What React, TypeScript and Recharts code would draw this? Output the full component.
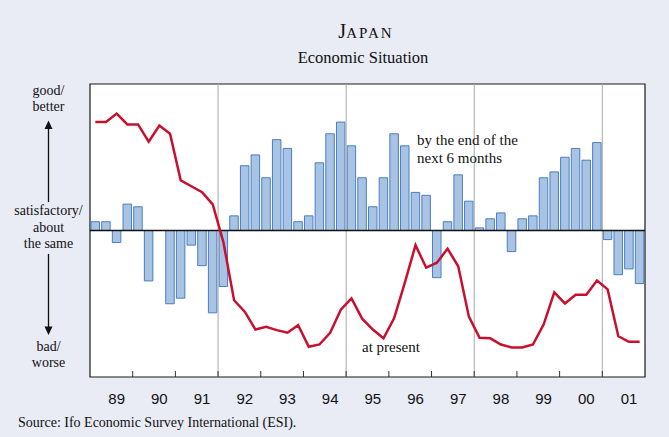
import {
  Bar,
  ComposedChart,
  Line,
  ReferenceArea,
  ReferenceLine,
  XAxis,
  YAxis,
} from "recharts";

const years = ["89", "90", "91", "92", "93", "94", "95", "96", "97", "98", "99", "00", "01"];
const dividerYears = ["92", "95", "98", "01"];

// by the end of the next 6 months (quarterly balance)
const expectations = [
  3, 3, -4.1, 9, 8.1, -17.2, 0, -25, -23.1, -5, -12, -28.1,
  -19.1, 5, 22.1, 25.8, 18, 31, 28, 3, 5, 23.1, 33, 37,
  28.9, 18, 8.1, 18, 33, 28.9, 13, 12, -16.1, 3, 19, 10,
  0.9, 4, 6, -7.2, 4, 5, 18, 20, 25, 28, 24, 30,
  -3.1, -15.1, -13.1, -18.1,
];

// at present
const present = [
  37, 37, 39.9, 36.2, 36.2, 30.3, 35.8, 33, 17.1, 15.1, 13.1, 8.9,
  -4, -23.8, -27.7, -33.8, -32.9, -34, -34.9, -32.3, -39.7, -38.9, -34.9, -27,
  -23.2, -30.1, -33.8, -36.8, -29.9, -17.8, -5, -12.7, -11, -6.2, -12.2, -29.4,
  -36.6, -36.8, -38.9, -39.9, -39.9, -38.9, -32.1, -21.1, -24.9, -21.9, -21.9, -17.1,
  -20.1, -36.1, -38, -38,
];

const data = expectations.map((v, i) => ({ x: i + 0.5, exp: v, now: present[i] }));
const yearStarts = years.slice(1).map((_, i) => (i + 1) * 4);
const labelSpots = years.map((_, i) => i * 4 + 2.5);
const tickValues = [...labelSpots, ...yearStarts].sort((a, b) => a - b);
const dividers = dividerYears.map((y) => years.indexOf(y) * 4);

const serif = "'Liberation Serif', 'Times New Roman', serif";
const sans = "'Liberation Sans', Arial, sans-serif";

function YearTick(props: any) {
  const { x, y, payload } = props;
  const v = payload.value;
  if (v % 4 === 0) {
    return <line x1={x} x2={x} y1={y - 6} y2={y} stroke="#333" strokeWidth={1} />;
  }
  return (
    <text x={x} y={y + 27} textAnchor="middle" fontFamily={sans} fontSize={15} fill="#111">
      {years[Math.floor(v / 4)]}
    </text>
  );
}

export default function App() {
  return (
    <div
      style={{
        position: "absolute",
        left: 0,
        top: 0,
        width: 669,
        height: 437,
        background: "#e9ebf5",
      }}
    >
      <ComposedChart
        width={669}
        height={437}
        data={data}
        margin={{ top: 84, right: 24, bottom: 30, left: 90 }}
      >
        <XAxis
          dataKey="x"
          type="number"
          domain={[0, 52]}
          ticks={tickValues}
          interval={0}
          allowDataOverflow
          axisLine={false}
          tickLine={false}
          tickSize={0}
          tickMargin={0}
          height={30}
          tick={<YearTick />}
        />
        <YAxis hide width={0} domain={[-50, 50]} allowDataOverflow />
        <ReferenceArea
          x1={0}
          x2={52}
          y1={-50}
          y2={50}
          fill="#ffffff"
          fillOpacity={1}
          stroke="#1a1a1a"
          strokeWidth={1.2}
        />
        {dividers.map((d) => (
          <ReferenceLine key={d} x={d} stroke="#a8a8a8" strokeWidth={1} />
        ))}
        <Bar
          dataKey="exp"
          barSize={8.5}
          fill="#a9c3e4"
          stroke="#4a7ec0"
          strokeWidth={1}
          isAnimationActive={false}
        />
        <ReferenceLine y={0} stroke="#111" strokeWidth={1.5} />
        <Line
          dataKey="now"
          type="linear"
          stroke="#c8102e"
          strokeWidth={2.5}
          dot={false}
          isAnimationActive={false}
        />
      </ComposedChart>
      <svg
        width={669}
        height={437}
        style={{ position: "absolute", left: 0, top: 0, pointerEvents: "none" }}
      >
        <text x={366} y={38} textAnchor="middle" fontFamily={serif} fill="#111">
          <tspan fontSize={20}>J</tspan>
          <tspan fontSize={15} letterSpacing={2}>APAN</tspan>
        </text>
        <text x={363} y={63} textAnchor="middle" fontFamily={serif} fontSize={16.5} fill="#111">
          Economic Situation
        </text>

        <g fontFamily={serif} fontSize={14} fill="#111" textAnchor="middle">
          <text x={48.5} y={95}>good/</text>
          <text x={48.5} y={111}>better</text>
          <text x={48.5} y={215}>satisfactory/</text>
          <text x={48.5} y={232}>about</text>
          <text x={48.5} y={248}>the same</text>
          <text x={48.5} y={351}>bad/</text>
          <text x={48.5} y={367}>worse</text>
        </g>
        <line x1={48.5} x2={48.5} y1={127} y2={202} stroke="#111" strokeWidth={1.3} />
        <polygon points="48.5,120.5 44.5,129 52.5,129" fill="#111" />
        <line x1={48.5} x2={48.5} y1={254} y2={328} stroke="#111" strokeWidth={1.3} />
        <polygon points="48.5,335 44.5,326.5 52.5,326.5" fill="#111" />

        <g fontFamily={serif} fontSize={15} fill="#111">
          <text x={417} y={145}>by the end of the</text>
          <text x={417} y={163}>next 6 months</text>
          <text x={362} y={352}>at present</text>
        </g>

        <text x={18} y={427} fontFamily={serif} fontSize={14} fill="#111">
          Source: Ifo Economic Survey International (ESI).
        </text>
      </svg>
    </div>
  );
}
